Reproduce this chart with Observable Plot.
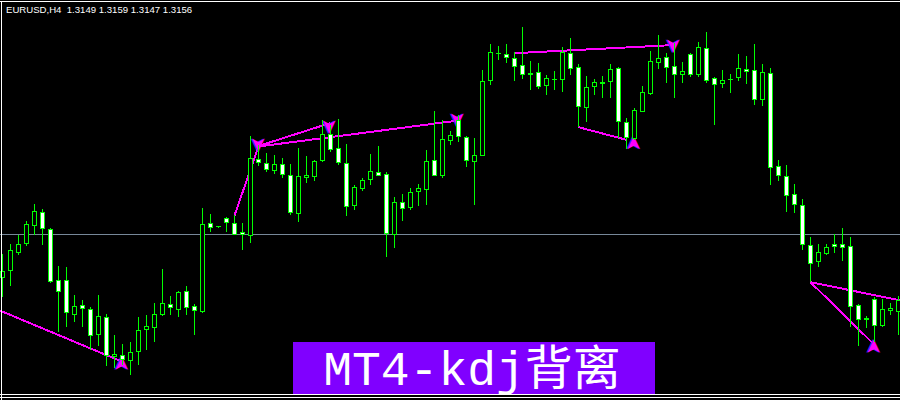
<!DOCTYPE html>
<html>
<head>
<meta charset="utf-8">
<script src="https://cdn.jsdelivr.net/npm/d3@7"></script>
<script src="https://cdn.jsdelivr.net/npm/@observablehq/plot@0.6"></script>
<style>
  html, body { margin: 0; padding: 0; background: #000; }
  #chart { position: relative; width: 900px; height: 400px; background: #000; overflow: hidden; }
  #chart svg { position: absolute; left: 0; top: 0; shape-rendering: crispEdges; }
  .edge { position: absolute; background: #fff; }
  #quote { position: absolute; left: 6px; top: 5px; font: 9.6px/1 "Liberation Sans", Arial, sans-serif; color: #fff; white-space: pre; }
  #banner { position: absolute; left: 293px; top: 342px; width: 362px; height: 52px; background: #8000ff; }
  #banner span { position: absolute; left: -2px; width: 100%; top: 6px; text-align: center; font-size: 48px; line-height: 48px; color: #fff; font-family: "Liberation Mono", "Noto Sans CJK SC", monospace; white-space: pre; }
</style>
</head>
<body>
<div id="chart"></div>
<script>
// EURUSD H4 bars (oldest first)
const symbol = "EURUSD";
const period = "H4";
const quote = [1.3149, 1.3159, 1.3147, 1.3156]; // O H L C of the live bar
const bid = 1.3156;
const bannerText = "MT4-kdj背离";

const open = [1.3113, 1.31193, 1.3138, 1.31463, 1.31647, 1.31777, 1.31607, 1.31095, 1.311, 1.30753,
  1.30847, 1.3081, 1.30553, 1.30727, 1.30333, 1.30347, 1.30297, 1.30383, 1.30607, 1.30627,
  1.30753, 1.30857, 1.30807, 1.30987, 1.30837, 1.30783, 1.31667, 1.31635, 1.31717, 1.31667,
  1.3158, 1.31543, 1.32307, 1.32267, 1.32193, 1.32257, 1.3215, 1.31763, 1.32123, 1.32133,
  1.32293, 1.32557, 1.32417, 1.32267, 1.31847, 1.32013, 1.32107, 1.32177, 1.32157, 1.31557,
  1.31877, 1.31823, 1.31987, 1.32007, 1.32297, 1.3215, 1.32497, 1.327, 1.32527, 1.32283,
  1.3235, 1.33093, 1.33365, 1.3336, 1.33317, 1.3325, 1.33167, 1.3318, 1.33043, 1.3311,
  1.33107, 1.33367, 1.33227, 1.32827, 1.33033, 1.33075, 1.33083, 1.33217, 1.32673, 1.32517,
  1.3279, 1.32967, 1.33277, 1.33327, 1.33233, 1.33157, 1.33357, 1.33157, 1.33417, 1.33117,
  1.33067, 1.3311, 1.33123, 1.33207, 1.332, 1.3291, 1.33167, 1.3224, 1.3214, 1.3196,
  1.3185, 1.3145, 1.31283, 1.31367, 1.31457, 1.31457, 1.31433, 1.30847, 1.30715, 1.30907,
  1.30647, 1.30793, 1.3079];

const high = [1.3136, 1.3146, 1.3155, 1.3169, 1.3186, 1.3181, 1.31617, 1.3124, 1.31227, 1.3095,
  1.309, 1.30827, 1.3095, 1.3076, 1.3055, 1.3046, 1.3048, 1.3073, 1.3075, 1.3087,
  1.3121, 1.3094, 1.3099, 1.3104, 1.3086, 1.31817, 1.3176, 1.3164, 1.31727, 1.3175,
  1.31673, 1.3254, 1.3245, 1.32367, 1.3235, 1.32317, 1.3226, 1.32417, 1.3234, 1.323,
  1.327, 1.3265, 1.3271, 1.3246, 1.3205, 1.32117, 1.3236, 1.3244, 1.32177, 1.31927,
  1.3196, 1.32017, 1.32057, 1.324, 1.3279, 1.327, 1.3259, 1.3275, 1.3254, 1.32523,
  1.332, 1.3346, 1.3344, 1.3346, 1.33383, 1.3363, 1.3329, 1.3327, 1.3315, 1.3319,
  1.33427, 1.33517, 1.33257, 1.3314, 1.33107, 1.3314, 1.3326, 1.33227, 1.32717, 1.32817,
  1.3304, 1.3339, 1.3355, 1.33367, 1.3347, 1.33283, 1.33373, 1.33477, 1.33577, 1.33133,
  1.332, 1.3316, 1.3336, 1.3334, 1.3346, 1.3326, 1.33217, 1.323, 1.3225, 1.3206,
  1.3191, 1.31527, 1.3146, 1.3146, 1.3156, 1.31617, 1.31527, 1.3086, 1.3074, 1.30933,
  1.30907, 1.30867, 1.3094];

const low = [1.3093, 1.3104, 1.3135, 1.31443, 1.3155, 1.3145, 1.31073, 1.30583, 1.30633, 1.30683,
  1.30633, 1.304, 1.3044, 1.30243, 1.3022, 1.3025, 1.3015, 1.3025, 1.304, 1.30483,
  1.3074, 1.3075, 1.30733, 1.3075, 1.3055, 1.30773, 1.31583, 1.31625, 1.3158, 1.31555,
  1.314, 1.31467, 1.32243, 1.32183, 1.32163, 1.32117, 1.3175, 1.31683, 1.32067, 1.3209,
  1.32285, 1.32383, 1.3225, 1.3174, 1.318, 1.3199, 1.3205, 1.3214, 1.31333, 1.31423,
  1.31693, 1.318, 1.3184, 1.3185, 1.3214, 1.32123, 1.3245, 1.32483, 1.32233, 1.3185,
  1.3234, 1.3305, 1.333, 1.33273, 1.33093, 1.33107, 1.33, 1.33007, 1.3295, 1.33,
  1.32983, 1.3315, 1.32633, 1.32683, 1.3295, 1.32917, 1.32923, 1.32517, 1.3241, 1.325,
  1.32783, 1.3295, 1.33207, 1.33067, 1.32923, 1.33067, 1.33133, 1.33133, 1.33067, 1.3265,
  1.33017, 1.32967, 1.33093, 1.3306, 1.3285, 1.3284, 1.3205, 1.32093, 1.31783, 1.31767,
  1.314, 1.31083, 1.31233, 1.3135, 1.31367, 1.31293, 1.30633, 1.30443, 1.30623, 1.30483,
  1.30633, 1.3075, 1.3055];

const close = [1.3119, 1.31397, 1.3146, 1.3166, 1.31787, 1.31613, 1.31083, 1.30985, 1.30773, 1.30837,
  1.30813, 1.30543, 1.30737, 1.30347, 1.3036, 1.30307, 1.30377, 1.30597, 1.30637, 1.30757,
  1.30867, 1.30827, 1.30977, 1.30827, 1.30797, 1.31657, 1.31627, 1.31633, 1.31677, 1.3156,
  1.31557, 1.32317, 1.32273, 1.32207, 1.3226, 1.32157, 1.31773, 1.3214, 1.3215, 1.3229,
  1.32557, 1.32407, 1.32277, 1.31833, 1.32027, 1.32097, 1.32187, 1.32147, 1.31567, 1.31873,
  1.31817, 1.31977, 1.32017, 1.32287, 1.3215, 1.32507, 1.32547, 1.32533, 1.32293, 1.3235,
  1.3309, 1.33377, 1.3337, 1.33327, 1.33233, 1.33157, 1.3316, 1.33033, 1.33117, 1.33107,
  1.33377, 1.33217, 1.32833, 1.33027, 1.33077, 1.3307, 1.33207, 1.3269, 1.32527, 1.32797,
  1.32977, 1.33283, 1.33317, 1.33227, 1.33157, 1.33187, 1.33157, 1.33427, 1.331, 1.33057,
  1.331, 1.33107, 1.33217, 1.33187, 1.32907, 1.33177, 1.32227, 1.32143, 1.31943, 1.31857,
  1.31457, 1.31267, 1.31377, 1.31427, 1.31433, 1.31423, 1.30833, 1.30707, 1.3071, 1.30643,
  1.30807, 1.30817, 1.309];

// KDJ divergence lines: bar index and price at each end
const divFromBar   = [-1,      29,     32,      32,     64,      72,      101,     101];
const divFromPrice = [1.30822, 1.3175, 1.32445, 1.3244, 1.33373, 1.32633, 1.31083, 1.31083];
const divToBar     = [14.6,    32,     41,      57,     84,      78,      108.7,   112.3];
const divToPrice   = [1.3030,  1.3244, 1.32675, 1.327,  1.33455, 1.32507, 1.3048,  1.309];

// divergence signal arrows
const arrowBar   = [32,     40.9,   56.9,  83.9,    14.9,   78.9,    108.9];
const arrowPrice = [1.3246, 1.3264, 1.3271, 1.3345, 1.3027, 1.32475, 1.3044];
const arrowDir   = ["down", "down", "down", "down", "up",   "up",    "up"];

const bars = open.map((o, i) => ({i, open: o, high: high[i], low: low[i], close: close[i]}));
const divLines = divFromBar.map((b, k) => ({b1: b, p1: divFromPrice[k], b2: divToBar[k], p2: divToPrice[k]}));
const arrows = arrowBar.map((b, k) => ({b, p: arrowPrice[k], dir: arrowDir[k]}));

const arrowMark = (fill, dx, dy) => Plot.text(arrows, {
  x: "b", y: "p", text: () => "➤", dx, dy,
  rotate: d => d.dir === "down" ? 90 : -90,
  fill, fontSize: 20, fontFamily: "DejaVu Sans"
});

const chart = Plot.plot({
  width: 900,
  height: 400,
  margin: 0,
  style: {background: "#000"},
  x: {domain: [-0.25, 112.25], axis: null},
  y: {domain: [1.2990, 1.3390], axis: null},
  marks: [
    Plot.ruleY([bid], {stroke: "#778899", strokeWidth: 1}),
    Plot.link(divLines, {x1: "b1", y1: "p1", x2: "b2", y2: "p2", stroke: "#ff00ff", strokeWidth: 2}),
    arrowMark("#3a2cff", -1, 0),
    arrowMark("#ff00ff", 0, 0),
    Plot.ruleX(bars, {x: "i", y1: "low", y2: "high", stroke: "#00ff00", strokeWidth: 1}),
    Plot.rect(bars, {
      x1: d => d.i - 0.25, x2: d => d.i + 0.25,
      y1: "open", y2: "close",
      fill: d => d.close < d.open ? "#ffffff" : "#000000",
      stroke: "#00ff00", strokeWidth: 1
    })
  ]
});

const root = document.getElementById("chart");
root.appendChild(chart);

// window frame
[[0, 1, 900, 1], [1, 1, 1, 399], [0, 394, 900, 1], [0, 397, 900, 1]].forEach(([l, t, w, h]) => {
  const e = document.createElement("div");
  e.className = "edge";
  Object.assign(e.style, {left: l + "px", top: t + "px", width: w + "px", height: h + "px"});
  root.appendChild(e);
});

const q = document.createElement("div");
q.id = "quote";
q.textContent = `${symbol},${period}  ${quote.map(v => v.toFixed(4)).join(" ")}`;
root.appendChild(q);

const banner = document.createElement("div");
banner.id = "banner";
const bt = document.createElement("span");
bt.textContent = bannerText;
banner.appendChild(bt);
root.appendChild(banner);
</script>
</body>
</html>
